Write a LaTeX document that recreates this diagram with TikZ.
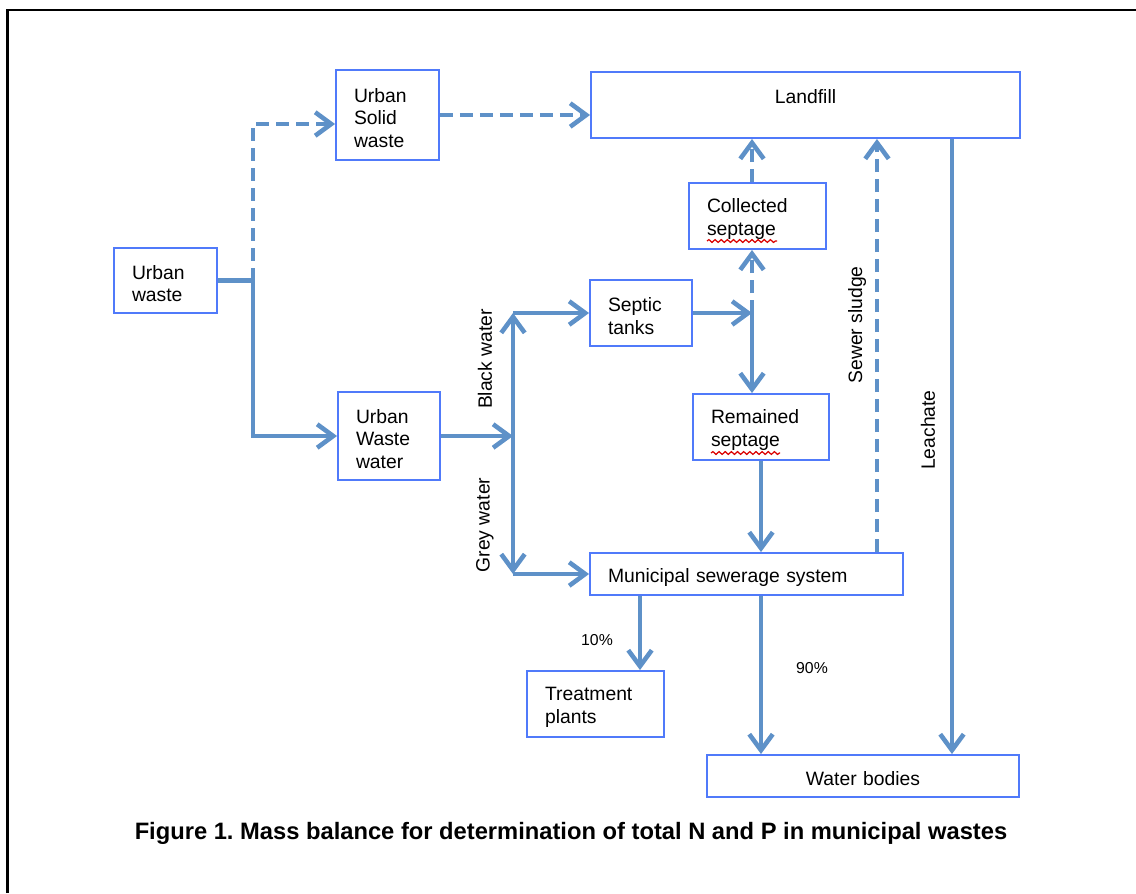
\documentclass[tikz,border=0pt]{standalone}
\usepackage{fontspec}
\setmainfont{Liberation Sans}
\usetikzlibrary{arrows.meta,decorations.pathmorphing}
\definecolor{boxblue}{RGB}{80,122,250}
\definecolor{flowblue}{RGB}{94,145,200}
\frenchspacing

\begin{document}
\begin{tikzpicture}[x=0.02cm, y=-0.02cm,
  blk/.style={draw=boxblue, line width=1.1pt, inner xsep=0.36cm, inner ysep=0pt,
    align=left, font=\fontsize{11pt}{12.8pt}\selectfont,
    execute at begin node={\rule{0pt}{11.4pt}}},
  link/.style={draw=flowblue, line width=2.6pt},
  flow/.style={link, -{Straight Barb[length=0.32cm,width=0.47cm]}},
  gap/.style={dash pattern=on 0.26cm off 0.14cm},
  lbl/.style={font=\fontsize{11pt}{13pt}\selectfont, inner sep=0pt},
  spell/.style={draw=red!85!black, line width=0.7pt, decorate,
    decoration={snake, amplitude=0.8pt, segment length=3.5pt}}]
\useasboundingbox (0,0) rectangle (1136,893);
\draw[line width=1.7pt] (7.5,893) -- (7.5,10) -- (1136,10);

\node (uw) [blk, text width=1.34cm, minimum height=1.30cm] at (165.5,280.5) {Urban\\waste};
\node (usw) [blk, text width=1.34cm, minimum height=1.80cm] at (387.5,115) {Urban\\Solid\\waste};
\node (lf) [blk, text width=7.86cm, minimum height=1.32cm, align=center] at (805.5,105) {Landfill\\\mbox{}};
\node (cs) [blk, text width=2.02cm, minimum height=1.32cm] at (757.5,216) {Collected\\septage};
\node (st) [blk, text width=1.32cm, minimum height=1.32cm] at (641,313) {Septic\\tanks};
\node (rs) [blk, text width=2.00cm, minimum height=1.32cm] at (761,427) {Remained\\septage};
\node (uww) [blk, text width=1.32cm, minimum height=1.76cm] at (389,436) {Urban\\Waste\\water};
\node (mss) [blk, text width=5.54cm, minimum height=0.84cm] at (746.5,574) {Municipal sewerage system};
\node (tp) [blk, text width=2.02cm, minimum height=1.32cm] at (595.5,704) {Treatment\\plants};
\node (wb) [blk, text width=5.52cm, minimum height=0.84cm, align=center] at (863,776) {Water bodies};

\coordinate (split) at (253,280.5);
\coordinate (fork) at (513,436);
\coordinate (tee) at (752,313);
\coordinate (sludge) at ([xshift=2.61cm]mss.north);
\coordinate (leach) at ([xshift=2.93cm]lf.south);
\coordinate (tenpct) at ([xshift=0.89cm]tp.north);

\draw[link] (uw.east) -- (split);
\draw[flow, gap] (split) |- ([yshift=-0.18cm]usw.west);
\draw[flow] (split) |- (uww.west);
\draw[flow, gap] (usw.east) -- (usw.east -| lf.west);
\draw[flow] (uww.east) -- (fork);
\draw[flow] (fork) -- (fork |- st.west);
\draw[flow] (fork |- st.west) -- (st.west);
\draw[flow] (fork) -- (fork |- mss.west);
\draw[flow] (fork |- mss.west) -- (mss.west);
\draw[flow] (st.east) -- (tee);
\draw[flow] (tee) -- (tee |- rs.north);
\draw[flow, gap] (tee) -- (tee |- cs.south);
\draw[flow, gap] (tee |- cs.north) -- (tee |- lf.south);
\draw[flow] (rs.south) -- (rs.south |- mss.north);
\draw[flow, gap] (sludge) -- (sludge |- lf.south);
\draw[flow] (leach) -- (leach |- wb.north);
\draw[flow] (tenpct |- mss.south) -- (tenpct);
\draw[flow] (rs.south |- mss.south) -- (rs.south |- wb.north);

\node (black) [lbl, rotate=90] at (485,359) {Black water};
\node (grey) [lbl, rotate=90] at (485,525) {Grey water};
\node (sewer) [lbl, rotate=90] at (857,325) {Sewer sludge};
\node (leachate) [lbl, rotate=90] at (928,430) {Leachate};
\node (ten) [lbl, font=\fontsize{9pt}{11pt}\selectfont] at (597,640) {10\%};
\node (ninety) [lbl, font=\fontsize{9pt}{11pt}\selectfont] at (812,668) {90\%};

\draw[spell] (707,241) -- (777,241);
\draw[spell] (711,453) -- (780,453);

\node (caption) [inner sep=0pt, font=\bfseries\fontsize{13.5pt}{16pt}\selectfont] at (571,833)
  {Figure 1. Mass balance for determination of total N and P in municipal wastes};
\end{tikzpicture}
\end{document}
